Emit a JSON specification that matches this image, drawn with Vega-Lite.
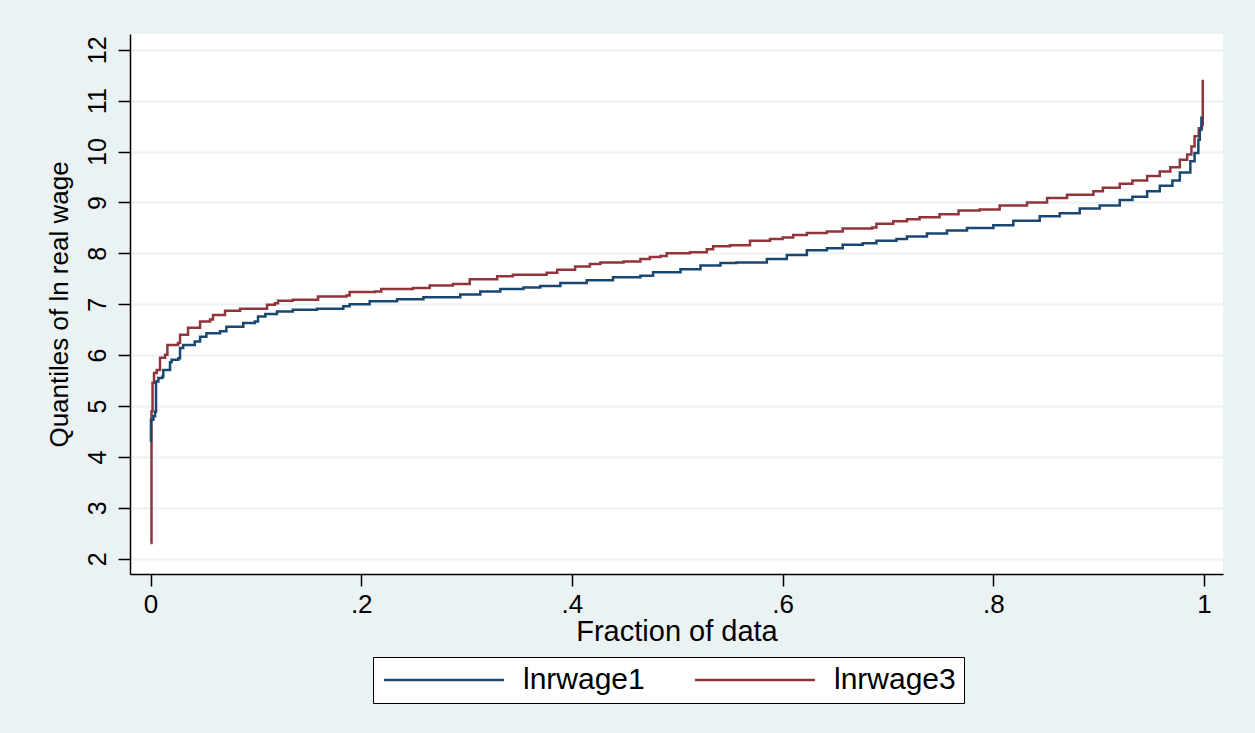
{
  "$schema": "https://vega.github.io/schema/vega-lite/v6.json",
  "width": 1093,
  "height": 540,
  "autosize": {"type": "none"},
  "padding": {"left": 130, "top": 34, "right": 32, "bottom": 159},
  "background": "#EAF2F3",
  "config": {
    "view": {"fill": "white", "stroke": null},
    "font": "Liberation Sans",
    "axis": {"labelColor": "black", "titleColor": "black", "titleFontWeight": "normal", "labelFont": "Liberation Sans", "titleFont": "Liberation Sans"}
  },
  "datasets": {
    "q": [
      {"f": 0.0, "q": 2.31, "s": "lnrwage3"},
      {"f": 0.0009, "q": 4.9, "s": "lnrwage3"},
      {"f": 0.0019, "q": 5.46, "s": "lnrwage3"},
      {"f": 0.0033, "q": 5.65, "s": "lnrwage3"},
      {"f": 0.0059, "q": 5.71, "s": "lnrwage3"},
      {"f": 0.009, "q": 5.95, "s": "lnrwage3"},
      {"f": 0.0138, "q": 6.01, "s": "lnrwage3"},
      {"f": 0.016, "q": 6.2, "s": "lnrwage3"},
      {"f": 0.026, "q": 6.24, "s": "lnrwage3"},
      {"f": 0.028, "q": 6.4, "s": "lnrwage3"},
      {"f": 0.0356, "q": 6.54, "s": "lnrwage3"},
      {"f": 0.047, "q": 6.66, "s": "lnrwage3"},
      {"f": 0.0565, "q": 6.7, "s": "lnrwage3"},
      {"f": 0.0593, "q": 6.79, "s": "lnrwage3"},
      {"f": 0.0707, "q": 6.87, "s": "lnrwage3"},
      {"f": 0.085, "q": 6.91, "s": "lnrwage3"},
      {"f": 0.106, "q": 6.91, "s": "lnrwage3"},
      {"f": 0.1106, "q": 6.99, "s": "lnrwage3"},
      {"f": 0.118, "q": 7.02, "s": "lnrwage3"},
      {"f": 0.121, "q": 7.07, "s": "lnrwage3"},
      {"f": 0.135, "q": 7.09, "s": "lnrwage3"},
      {"f": 0.156, "q": 7.09, "s": "lnrwage3"},
      {"f": 0.159, "q": 7.15, "s": "lnrwage3"},
      {"f": 0.186, "q": 7.17, "s": "lnrwage3"},
      {"f": 0.189, "q": 7.24, "s": "lnrwage3"},
      {"f": 0.213, "q": 7.25, "s": "lnrwage3"},
      {"f": 0.219, "q": 7.3, "s": "lnrwage3"},
      {"f": 0.249, "q": 7.32, "s": "lnrwage3"},
      {"f": 0.265, "q": 7.37, "s": "lnrwage3"},
      {"f": 0.287, "q": 7.4, "s": "lnrwage3"},
      {"f": 0.303, "q": 7.49, "s": "lnrwage3"},
      {"f": 0.327, "q": 7.49, "s": "lnrwage3"},
      {"f": 0.329, "q": 7.55, "s": "lnrwage3"},
      {"f": 0.344, "q": 7.58, "s": "lnrwage3"},
      {"f": 0.376, "q": 7.62, "s": "lnrwage3"},
      {"f": 0.386, "q": 7.68, "s": "lnrwage3"},
      {"f": 0.403, "q": 7.74, "s": "lnrwage3"},
      {"f": 0.417, "q": 7.79, "s": "lnrwage3"},
      {"f": 0.427, "q": 7.82, "s": "lnrwage3"},
      {"f": 0.449, "q": 7.84, "s": "lnrwage3"},
      {"f": 0.465, "q": 7.89, "s": "lnrwage3"},
      {"f": 0.474, "q": 7.93, "s": "lnrwage3"},
      {"f": 0.484, "q": 7.95, "s": "lnrwage3"},
      {"f": 0.49, "q": 8.0, "s": "lnrwage3"},
      {"f": 0.512, "q": 8.02, "s": "lnrwage3"},
      {"f": 0.528, "q": 8.08, "s": "lnrwage3"},
      {"f": 0.534, "q": 8.14, "s": "lnrwage3"},
      {"f": 0.55, "q": 8.16, "s": "lnrwage3"},
      {"f": 0.569, "q": 8.25, "s": "lnrwage3"},
      {"f": 0.588, "q": 8.28, "s": "lnrwage3"},
      {"f": 0.6, "q": 8.31, "s": "lnrwage3"},
      {"f": 0.61, "q": 8.36, "s": "lnrwage3"},
      {"f": 0.623, "q": 8.4, "s": "lnrwage3"},
      {"f": 0.642, "q": 8.43, "s": "lnrwage3"},
      {"f": 0.657, "q": 8.49, "s": "lnrwage3"},
      {"f": 0.685, "q": 8.51, "s": "lnrwage3"},
      {"f": 0.689, "q": 8.58, "s": "lnrwage3"},
      {"f": 0.705, "q": 8.63, "s": "lnrwage3"},
      {"f": 0.718, "q": 8.67, "s": "lnrwage3"},
      {"f": 0.73, "q": 8.71, "s": "lnrwage3"},
      {"f": 0.745, "q": 8.71, "s": "lnrwage3"},
      {"f": 0.749, "q": 8.77, "s": "lnrwage3"},
      {"f": 0.767, "q": 8.84, "s": "lnrwage3"},
      {"f": 0.787, "q": 8.86, "s": "lnrwage3"},
      {"f": 0.806, "q": 8.94, "s": "lnrwage3"},
      {"f": 0.832, "q": 9.0, "s": "lnrwage3"},
      {"f": 0.851, "q": 9.09, "s": "lnrwage3"},
      {"f": 0.87, "q": 9.15, "s": "lnrwage3"},
      {"f": 0.895, "q": 9.22, "s": "lnrwage3"},
      {"f": 0.904, "q": 9.29, "s": "lnrwage3"},
      {"f": 0.92, "q": 9.37, "s": "lnrwage3"},
      {"f": 0.932, "q": 9.43, "s": "lnrwage3"},
      {"f": 0.946, "q": 9.52, "s": "lnrwage3"},
      {"f": 0.958, "q": 9.61, "s": "lnrwage3"},
      {"f": 0.968, "q": 9.69, "s": "lnrwage3"},
      {"f": 0.977, "q": 9.84, "s": "lnrwage3"},
      {"f": 0.984, "q": 9.94, "s": "lnrwage3"},
      {"f": 0.988, "q": 10.1, "s": "lnrwage3"},
      {"f": 0.991, "q": 10.3, "s": "lnrwage3"},
      {"f": 0.995, "q": 10.46, "s": "lnrwage3"},
      {"f": 0.998, "q": 10.53, "s": "lnrwage3"},
      {"f": 0.9988, "q": 11.41, "s": "lnrwage3"},
      {"f": 0.0002, "q": 4.3, "s": "lnrwage1"},
      {"f": 0.0004, "q": 4.73, "s": "lnrwage1"},
      {"f": 0.0027, "q": 4.8, "s": "lnrwage1"},
      {"f": 0.0043, "q": 4.89, "s": "lnrwage1"},
      {"f": 0.0052, "q": 5.48, "s": "lnrwage1"},
      {"f": 0.0074, "q": 5.55, "s": "lnrwage1"},
      {"f": 0.0112, "q": 5.58, "s": "lnrwage1"},
      {"f": 0.0121, "q": 5.71, "s": "lnrwage1"},
      {"f": 0.0185, "q": 5.86, "s": "lnrwage1"},
      {"f": 0.02, "q": 5.91, "s": "lnrwage1"},
      {"f": 0.0264, "q": 5.94, "s": "lnrwage1"},
      {"f": 0.028, "q": 6.14, "s": "lnrwage1"},
      {"f": 0.031, "q": 6.2, "s": "lnrwage1"},
      {"f": 0.042, "q": 6.27, "s": "lnrwage1"},
      {"f": 0.047, "q": 6.36, "s": "lnrwage1"},
      {"f": 0.053, "q": 6.43, "s": "lnrwage1"},
      {"f": 0.066, "q": 6.47, "s": "lnrwage1"},
      {"f": 0.072, "q": 6.56, "s": "lnrwage1"},
      {"f": 0.088, "q": 6.63, "s": "lnrwage1"},
      {"f": 0.099, "q": 6.66, "s": "lnrwage1"},
      {"f": 0.102, "q": 6.76, "s": "lnrwage1"},
      {"f": 0.109, "q": 6.81, "s": "lnrwage1"},
      {"f": 0.12, "q": 6.86, "s": "lnrwage1"},
      {"f": 0.135, "q": 6.89, "s": "lnrwage1"},
      {"f": 0.158, "q": 6.91, "s": "lnrwage1"},
      {"f": 0.183, "q": 6.96, "s": "lnrwage1"},
      {"f": 0.189, "q": 7.0, "s": "lnrwage1"},
      {"f": 0.208, "q": 7.06, "s": "lnrwage1"},
      {"f": 0.234, "q": 7.1, "s": "lnrwage1"},
      {"f": 0.259, "q": 7.14, "s": "lnrwage1"},
      {"f": 0.294, "q": 7.19, "s": "lnrwage1"},
      {"f": 0.313, "q": 7.25, "s": "lnrwage1"},
      {"f": 0.332, "q": 7.3, "s": "lnrwage1"},
      {"f": 0.354, "q": 7.33, "s": "lnrwage1"},
      {"f": 0.37, "q": 7.36, "s": "lnrwage1"},
      {"f": 0.389, "q": 7.42, "s": "lnrwage1"},
      {"f": 0.414, "q": 7.47, "s": "lnrwage1"},
      {"f": 0.439, "q": 7.53, "s": "lnrwage1"},
      {"f": 0.465, "q": 7.56, "s": "lnrwage1"},
      {"f": 0.477, "q": 7.63, "s": "lnrwage1"},
      {"f": 0.503, "q": 7.69, "s": "lnrwage1"},
      {"f": 0.522, "q": 7.76, "s": "lnrwage1"},
      {"f": 0.541, "q": 7.81, "s": "lnrwage1"},
      {"f": 0.556, "q": 7.82, "s": "lnrwage1"},
      {"f": 0.585, "q": 7.89, "s": "lnrwage1"},
      {"f": 0.604, "q": 7.97, "s": "lnrwage1"},
      {"f": 0.623, "q": 8.06, "s": "lnrwage1"},
      {"f": 0.642, "q": 8.1, "s": "lnrwage1"},
      {"f": 0.657, "q": 8.17, "s": "lnrwage1"},
      {"f": 0.676, "q": 8.2, "s": "lnrwage1"},
      {"f": 0.689, "q": 8.25, "s": "lnrwage1"},
      {"f": 0.708, "q": 8.28, "s": "lnrwage1"},
      {"f": 0.718, "q": 8.33, "s": "lnrwage1"},
      {"f": 0.737, "q": 8.39, "s": "lnrwage1"},
      {"f": 0.756, "q": 8.45, "s": "lnrwage1"},
      {"f": 0.775, "q": 8.5, "s": "lnrwage1"},
      {"f": 0.8, "q": 8.55, "s": "lnrwage1"},
      {"f": 0.819, "q": 8.64, "s": "lnrwage1"},
      {"f": 0.844, "q": 8.73, "s": "lnrwage1"},
      {"f": 0.863, "q": 8.79, "s": "lnrwage1"},
      {"f": 0.882, "q": 8.88, "s": "lnrwage1"},
      {"f": 0.901, "q": 8.94, "s": "lnrwage1"},
      {"f": 0.92, "q": 9.05, "s": "lnrwage1"},
      {"f": 0.932, "q": 9.11, "s": "lnrwage1"},
      {"f": 0.946, "q": 9.22, "s": "lnrwage1"},
      {"f": 0.958, "q": 9.33, "s": "lnrwage1"},
      {"f": 0.97, "q": 9.43, "s": "lnrwage1"},
      {"f": 0.977, "q": 9.59, "s": "lnrwage1"},
      {"f": 0.987, "q": 9.81, "s": "lnrwage1"},
      {"f": 0.991, "q": 9.97, "s": "lnrwage1"},
      {"f": 0.9946, "q": 10.23, "s": "lnrwage1"},
      {"f": 0.996, "q": 10.43, "s": "lnrwage1"},
      {"f": 0.9975, "q": 10.69, "s": "lnrwage1"}
    ]
  },
  "data": {"name": "q"},
  "mark": {"type": "line", "strokeWidth": 2.5, "interpolate": "step-after", "clip": true},
  "encoding": {
    "x": {
      "field": "f", "type": "quantitative",
      "scale": {"domain": [-0.0195, 1.018], "nice": false, "zero": false},
      "axis": {
        "values": [0, 0.2, 0.4, 0.6, 0.8, 1],
        "labelExpr": "datum.value == 0 ? '0' : datum.value == 1 ? '1' : replace(format(datum.value, '.1f'), '0.', '.')",
        "grid": false,
        "domainColor": "black", "domainWidth": 1.5,
        "tickColor": "black", "tickWidth": 1.5, "tickSize": 12,
        "labelFontSize": 26, "labelPadding": 5,
        "title": "Fraction of data", "titleFontSize": 29, "titlePadding": 0
      }
    },
    "y": {
      "field": "q", "type": "quantitative",
      "scale": {"domain": [1.7, 12.31], "nice": false, "zero": false},
      "axis": {
        "values": [2, 3, 4, 5, 6, 7, 8, 9, 10, 11, 12],
        "grid": true, "gridColor": "#EAF2F3", "gridWidth": 2,
        "domainColor": "black", "domainWidth": 1.5,
        "tickColor": "black", "tickWidth": 1.5, "tickSize": 12,
        "labelFontSize": 25, "labelAngle": 270, "labelAlign": "center", "labelBaseline": "alphabetic", "labelPadding": 13,
        "title": "Quantiles of ln real wage", "titleFontSize": 26, "titlePadding": 13
      }
    },
    "color": {
      "field": "s", "type": "nominal",
      "scale": {"domain": ["lnrwage1", "lnrwage3"], "range": ["#1A476F", "#90353B"]},
      "legend": {
        "title": null,
        "orient": "none", "legendX": 243, "legendY": 623,
        "direction": "horizontal",
        "symbolType": "M-1.2,0H10.8", "symbolSize": 400, "symbolStrokeWidth": 2.5,
        "labelFontSize": 30, "labelColor": "black", "labelFont": "Liberation Sans", "labelOffset": 112,
        "columnPadding": 45,
        "strokeColor": "black", "fillColor": "white",
        "padding": 8, "cornerRadius": 0
      }
    }
  }
}
